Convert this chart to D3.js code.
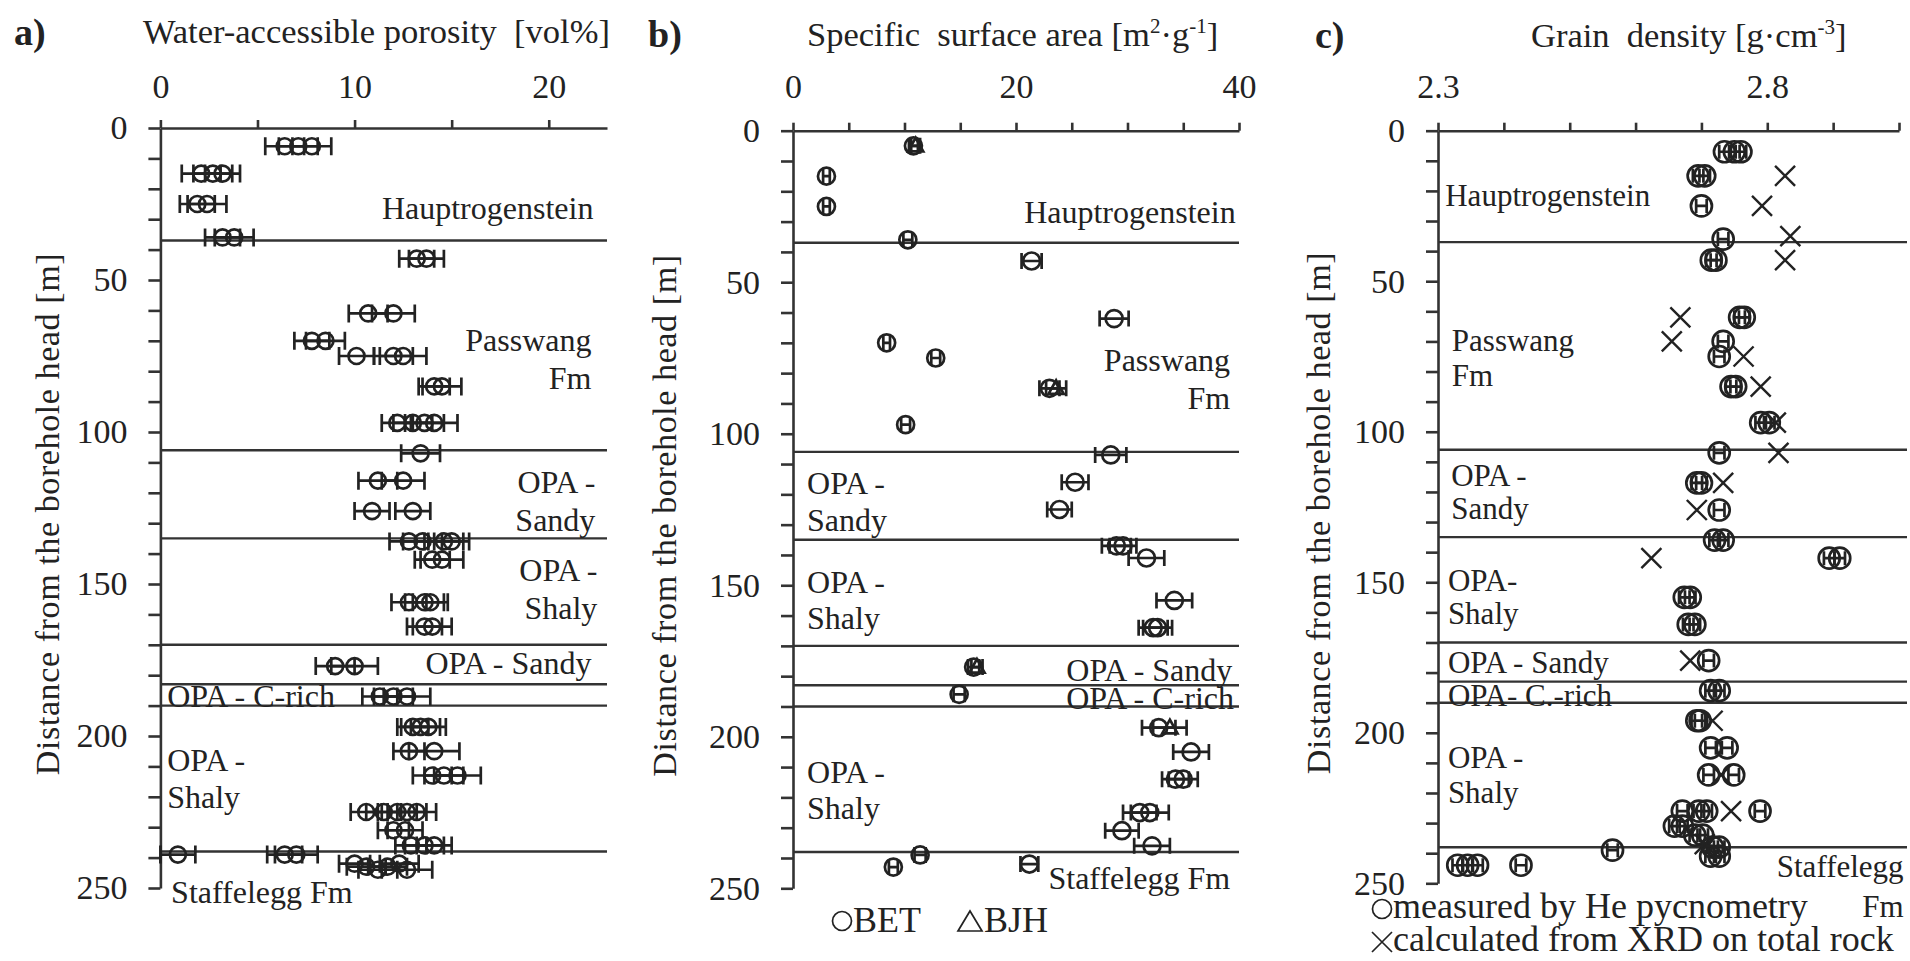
<!DOCTYPE html>
<html>
<head>
<meta charset="utf-8">
<script src="https://cdn.jsdelivr.net/npm/d3@7/dist/d3.min.js"></script>
<style>
  body { margin: 0; background: #fff; }
  svg text { font-family: "Liberation Serif", "Times New Roman", serif; fill: #222; white-space: pre; }
  .tick text { font-size: 34px; }
</style>
</head>
<body>
<svg id="chart" width="1910" height="961"></svg>
<script>
// formation boundaries, the same in all three logs [m]
const boundaries = [37, 106, 135, 170, 183, 190, 238];
const depthTicks = d3.range(0, 251, 10);

// a) water-accessible porosity: [depth m, vol%, error]
const porosity = [
  [6, 6.4, 1.0], [6, 7.1, 1.0], [6, 7.8, 1.0],
  [15, 2.1, 1.0], [15, 2.7, 1.0], [15, 3.2, 0.9],
  [25, 1.9, 0.9], [25, 2.4, 1.0],
  [36, 3.2, 0.9], [36, 3.8, 1.0],
  [43, 13.2, 0.9], [43, 13.7, 0.9],
  [61, 10.7, 1.0], [61, 12.0, 1.1],
  [70, 7.8, 0.9], [70, 8.5, 1.0],
  [75, 10.1, 0.9], [75, 12.0, 1.0], [75, 12.5, 1.2],
  [85, 14.1, 0.8], [85, 14.5, 1.0],
  [97, 12.2, 0.8], [97, 13.0, 1.0], [97, 13.6, 1.0], [97, 14.1, 1.2],
  [107, 13.4, 1.0],
  [116, 11.2, 1.0], [116, 12.5, 1.1],
  [126, 10.9, 0.9], [126, 13.0, 0.9],
  [136, 12.8, 1.0], [136, 13.5, 1.0], [136, 14.6, 1.0], [136, 15.0, 0.9],
  [142, 14.0, 0.9], [142, 14.5, 1.1],
  [156, 12.8, 0.9], [156, 13.6, 1.0], [156, 13.9, 0.9],
  [164, 13.6, 0.9], [164, 14.0, 1.0],
  [177, 9.0, 1.0], [177, 10.0, 1.2],
  [187, 11.3, 0.9], [187, 12.0, 1.0], [187, 12.7, 1.2],
  [197, 13.0, 0.8], [197, 13.4, 1.0], [197, 13.8, 0.9],
  [205, 12.8, 0.8], [205, 14.1, 1.3],
  [213, 14.0, 1.0], [213, 14.6, 1.0], [213, 15.3, 1.2],
  [225, 10.6, 0.8], [225, 11.5, 0.9], [225, 12.2, 1.0], [225, 12.7, 1.0], [225, 13.2, 1.0],
  [231, 12.0, 0.8], [231, 12.6, 0.9],
  [236, 12.9, 0.8], [236, 13.6, 1.0], [236, 14.1, 0.9],
  [239, 0.9, 0.9], [239, 6.4, 0.9], [239, 7.0, 1.1],
  [242, 10.0, 0.8], [243, 10.6, 1.0], [244, 11.2, 1.0], [243, 11.7, 1.0], [242, 12.3, 1.0], [244, 12.7, 1.3]
];

// b) specific surface area: [depth m, m2/g, error]
const bet = [
  [5, 10.8, 0.4], [15, 3.0, 0.3], [25, 3.0, 0.3], [36, 10.3, 0.4], [43, 21.4, 0.9],
  [62, 28.8, 1.3], [70, 8.4, 0.3], [75, 12.8, 0.4], [85, 23.0, 0.9], [97, 10.1, 0.4],
  [107, 28.5, 1.4], [116, 25.3, 1.2], [125, 23.9, 1.1], [137, 29.0, 1.3], [137, 29.6, 1.2],
  [141, 31.7, 1.6], [155, 34.2, 1.6], [164, 32.3, 1.3], [164, 32.7, 1.3], [177, 16.2, 0.5],
  [186, 14.9, 0.5], [197, 32.8, 1.5], [205, 35.7, 1.6], [214, 34.3, 1.2], [214, 35.0, 1.3],
  [225, 31.1, 1.5], [225, 32.0, 1.7], [231, 29.5, 1.5], [236, 32.2, 1.6], [239, 11.4, 0.5],
  [243, 9.0, 0.4], [242, 21.2, 0.8]
];
const bjh = [
  [5, 11.0, 0.4], [85, 23.6, 0.9], [177, 16.5, 0.5], [197, 33.8, 1.5]
];

// c) grain density: [depth m, g/cm3]
const hePycno = [
  [7, 2.735], [7, 2.750], [7, 2.760],
  [15, 2.695], [15, 2.705], [25, 2.700], [36, 2.733],
  [43, 2.715], [43, 2.722], [62, 2.758], [62, 2.765], [70, 2.733], [75, 2.727],
  [85, 2.745], [85, 2.752], [97, 2.790], [97, 2.803], [107, 2.727],
  [117, 2.693], [117, 2.700], [126, 2.727], [136, 2.720], [136, 2.733],
  [142, 2.894], [142, 2.910], [155, 2.674], [155, 2.683], [164, 2.680], [164, 2.690],
  [176, 2.711], [186, 2.714], [186, 2.727], [196, 2.693], [196, 2.698],
  [205, 2.714], [205, 2.739], [214, 2.711], [214, 2.749],
  [226, 2.671], [226, 2.696], [226, 2.708], [226, 2.789],
  [231, 2.659], [231, 2.671], [234, 2.690], [234, 2.702],
  [239, 2.565], [238, 2.717], [238, 2.727], [241, 2.714], [241, 2.727],
  [244, 2.330], [244, 2.345], [244, 2.360], [244, 2.426]
];
const xrd = [
  [15, 2.827], [25, 2.792], [35, 2.835], [43, 2.827], [62, 2.668], [70, 2.655],
  [75, 2.764], [85, 2.790], [97, 2.813], [107, 2.817], [117, 2.733], [126, 2.693],
  [142, 2.624], [176, 2.683], [196, 2.717], [214, 2.730], [226, 2.745], [237, 2.705]
];

// top axis ticks and labels
const ticksA = [0, 5, 10, 15, 20], labelsA = [0, 10, 20];
const ticksB = [0, 5, 10, 15, 20, 25, 30, 35, 40], labelsB = [0, 20, 40];
const ticksC = [2.3, 2.4, 2.5, 2.6, 2.7, 2.8, 2.9, 3.0], labelsC = [2.3, 2.8];

// formation names: [text, depth, value, anchor]
const formationsA = [
  ["Hauptrogenstein", 26.3, 22.3, "end"], ["Passwang", 69.7, 22.2, "end"], ["Fm", 82.2, 22.2, "end"],
  ["OPA -", 116.4, 22.4, "end"], ["Sandy", 128.9, 22.4, "end"],
  ["OPA -", 145.4, 22.5, "end"], ["Shaly", 157.9, 22.5, "end"],
  ["OPA - Sandy", 176, 22.2, "end"], ["OPA - C-rich", 186.8, 0.35, "start"],
  ["OPA -", 207.9, 0.35, "start"], ["Shaly", 220.1, 0.35, "start"],
  ["Staffelegg Fm", 251.3, 0.55, "start"]
];
const formationsB = [
  ["Hauptrogenstein", 26.7, 39.7, "end"], ["Passwang", 75.7, 39.2, "end"], ["Fm", 88.2, 39.2, "end"],
  ["OPA -", 116.3, 1.26, "start"], ["Sandy", 128.5, 1.26, "start"],
  ["OPA -", 148.9, 1.26, "start"], ["Shaly", 160.8, 1.26, "start"],
  ["OPA - Sandy", 178, 39.4, "end"], ["OPA - C-rich", 187.2, 39.55, "end"],
  ["OPA -", 211.6, 1.26, "start"], ["Shaly", 223.5, 1.26, "start"],
  ["Staffelegg Fm", 246.6, 39.2, "end"]
];
const formationsC = [
  ["Hauptrogenstein", 21.4, 2.311, "start"], ["Passwang", 69.5, 2.321, "start"], ["Fm", 81.2, 2.321, "start"],
  ["OPA -", 114.4, 2.32, "start"], ["Sandy", 125.3, 2.32, "start"],
  ["OPA-", 149.3, 2.315, "start"], ["Shaly", 160.2, 2.315, "start"],
  ["OPA - Sandy", 176.4, 2.315, "start"], ["OPA- C.-rich", 187.5, 2.315, "start"],
  ["OPA -", 208, 2.315, "start"], ["Shaly", 219.6, 2.315, "start"],
  ["Staffelegg", 244.3, 3.007, "end"], ["Fm", 257.6, 3.007, "end"]
];

const svg = d3.select("#chart");
const ink = "#222";

function title(x, y, parts) {
  const t = svg.append("text").attr("x", x).attr("y", y).attr("font-size", 34.5);
  let up = false;
  parts.forEach(([s, sup]) => {
    const sp = t.append("tspan").text(s);
    if (sup) { sp.attr("font-size", 21).attr("dy", -13); up = true; }
    else if (up) { sp.attr("dy", 13); up = false; }
  });
}

function panel(p) {
  const g = svg.append("g");
  const x = d3.scaleLinear().domain(p.xDomain).range(p.xRange);
  const y = d3.scaleLinear().domain([0, 250]).range(p.yRange);

  g.selectAll(".bound").data(boundaries).join("line")
    .attr("x1", p.xRange[0]).attr("x2", p.xRange[1] + p.over)
    .attr("y1", d => y(d)).attr("y2", d => y(d))
    .attr("stroke", "#333").attr("stroke-width", 2.4);

  const isLabel = d => p.labels.some(l => Math.abs(l - d) < 1e-6);
  g.append("g").attr("transform", `translate(0,${y(0)})`)
    .call(d3.axisTop(x).tickValues(p.ticks).tickSize(8).tickSizeOuter(0)
      .tickPadding(y(0) - 97.5 - 8).tickFormat(d => isLabel(d) ? p.fmt(d) : ""))
    .attr("color", "#333")
    .call(a => a.selectAll("line,path").attr("stroke-width", 2.6));

  g.append("g").attr("transform", `translate(${p.xRange[0]},0)`)
    .call(d3.axisLeft(y).tickValues(depthTicks).tickSize(12).tickSizeOuter(0)
      .tickPadding(21).tickFormat(d => d % 50 === 0 ? d : ""))
    .attr("color", "#333")
    .call(a => a.selectAll("line,path").attr("stroke-width", 2.6));

  g.append("text")
    .attr("transform", `translate(${p.yLabelX},${(y(0) + y(250)) / 2 + 6}) rotate(-90)`)
    .attr("text-anchor", "middle").attr("dy", "0.35em")
    .attr("font-size", 34).attr("letter-spacing", 0.6)
    .text("Distance from the borehole head [m]");

  g.selectAll(".fm").data(p.formations).join("text")
    .attr("x", d => x(d[2])).attr("y", d => y(d[1])).attr("dy", "0.35em")
    .attr("text-anchor", d => d[3]).attr("font-size", p.fmSize)
    .text(d => d[0]);

  return { g, x, y };
}

function errorBars(g, x, y, data, cap, r, shape) {
  const pts = g.append("g").attr("stroke", ink).attr("fill", "none").attr("stroke-width", 2.7);
  pts.selectAll(".eb").data(data).join("path")
    .attr("d", d => {
      const y0 = y(d[0]), xl = x(d[1] - d[2]), xr = x(d[1] + d[2]);
      return `M${xl},${y0}H${xr}M${xl},${y0 - cap}V${y0 + cap}M${xr},${y0 - cap}V${y0 + cap}`;
    });
  if (shape === "triangle") {
    pts.selectAll(".tri").data(data).join("path")
      .attr("transform", d => `translate(${x(d[1])},${y(d[0])})`)
      .attr("d", `M0,${-r}L${r * 0.95},${r * 0.7}L${-r * 0.95},${r * 0.7}Z`);
  } else {
    pts.selectAll(".dot").data(data).join("circle")
      .attr("cx", d => x(d[1])).attr("cy", d => y(d[0])).attr("r", r);
  }
}

// a) porosity
const A = panel({
  xDomain: [0, 23], xRange: [160.4, 607], yRange: [128, 888], over: 0,
  ticks: ticksA, labels: labelsA, fmt: d3.format("d"),
  formations: formationsA, fmSize: 32, yLabelX: 47
});
errorBars(A.g, A.x, A.y, porosity, 9, 8, "circle");
svg.append("text").attr("x", 14).attr("y", 45).attr("font-size", 38).attr("font-weight", "bold").text("a)");
title(143, 43, [["Water-accessible porosity  [vol%]"]]);

// b) specific surface area
const B = panel({
  xDomain: [0, 40], xRange: [793, 1239], yRange: [130.7, 888.3], over: 0,
  ticks: ticksB, labels: labelsB, fmt: d3.format("d"),
  formations: formationsB, fmSize: 32, yLabelX: 664
});
errorBars(B.g, B.x, B.y, bjh, 8, 8, "triangle");
errorBars(B.g, B.x, B.y, bet, 8, 8.5, "circle");
svg.append("text").attr("x", 648).attr("y", 47).attr("font-size", 38).attr("font-weight", "bold").text("b)");
title(807, 46, [["Specific  surface area [m"], ["2", 1], ["·g"], ["-1", 1], ["]"]]);

const legB = svg.append("g").attr("stroke", ink).attr("fill", "none").attr("stroke-width", 1.7);
legB.append("circle").attr("cx", 842).attr("cy", 921).attr("r", 9.5);
legB.append("path").attr("d", "M970,911L982,931H958Z");
svg.append("text").attr("x", 853).attr("y", 932).attr("font-size", 36).text("BET");
svg.append("text").attr("x", 984).attr("y", 932).attr("font-size", 36).text("BJH");

// c) grain density
const C = panel({
  xDomain: [2.3, 3.0], xRange: [1438, 1899], yRange: [130.7, 883.3], over: 8,
  ticks: ticksC, labels: labelsC, fmt: d3.format(".1f"),
  formations: formationsC, fmSize: 31, yLabelX: 1318
});
const xc = C.g.append("g").attr("stroke", ink).attr("stroke-width", 2.4);
xc.selectAll("path").data(xrd).join("path")
  .attr("transform", d => `translate(${C.x(d[1])},${C.y(d[0])})`)
  .attr("d", "M-10,-10L10,10M-10,10L10,-10");
errorBars(C.g, C.x, C.y, hePycno.map(d => [d[0], d[1], 0.008]), 7, 10.5, "circle");
svg.append("text").attr("x", 1315).attr("y", 48).attr("font-size", 38).attr("font-weight", "bold").text("c)");
title(1531, 47, [["Grain  density [g·cm"], ["-3", 1], ["]"]]);

const legC = svg.append("g").attr("stroke", ink).attr("fill", "none").attr("stroke-width", 1.7);
legC.append("circle").attr("cx", 1382).attr("cy", 909).attr("r", 9.5);
legC.append("path").attr("d", "M1372,932L1392,952M1372,952L1392,932");
svg.append("text").attr("x", 1393).attr("y", 918).attr("font-size", 36).text("measured by He pycnometry");
svg.append("text").attr("x", 1393).attr("y", 951).attr("font-size", 36).text("calculated from XRD on total rock");
</script>
</body>
</html>
